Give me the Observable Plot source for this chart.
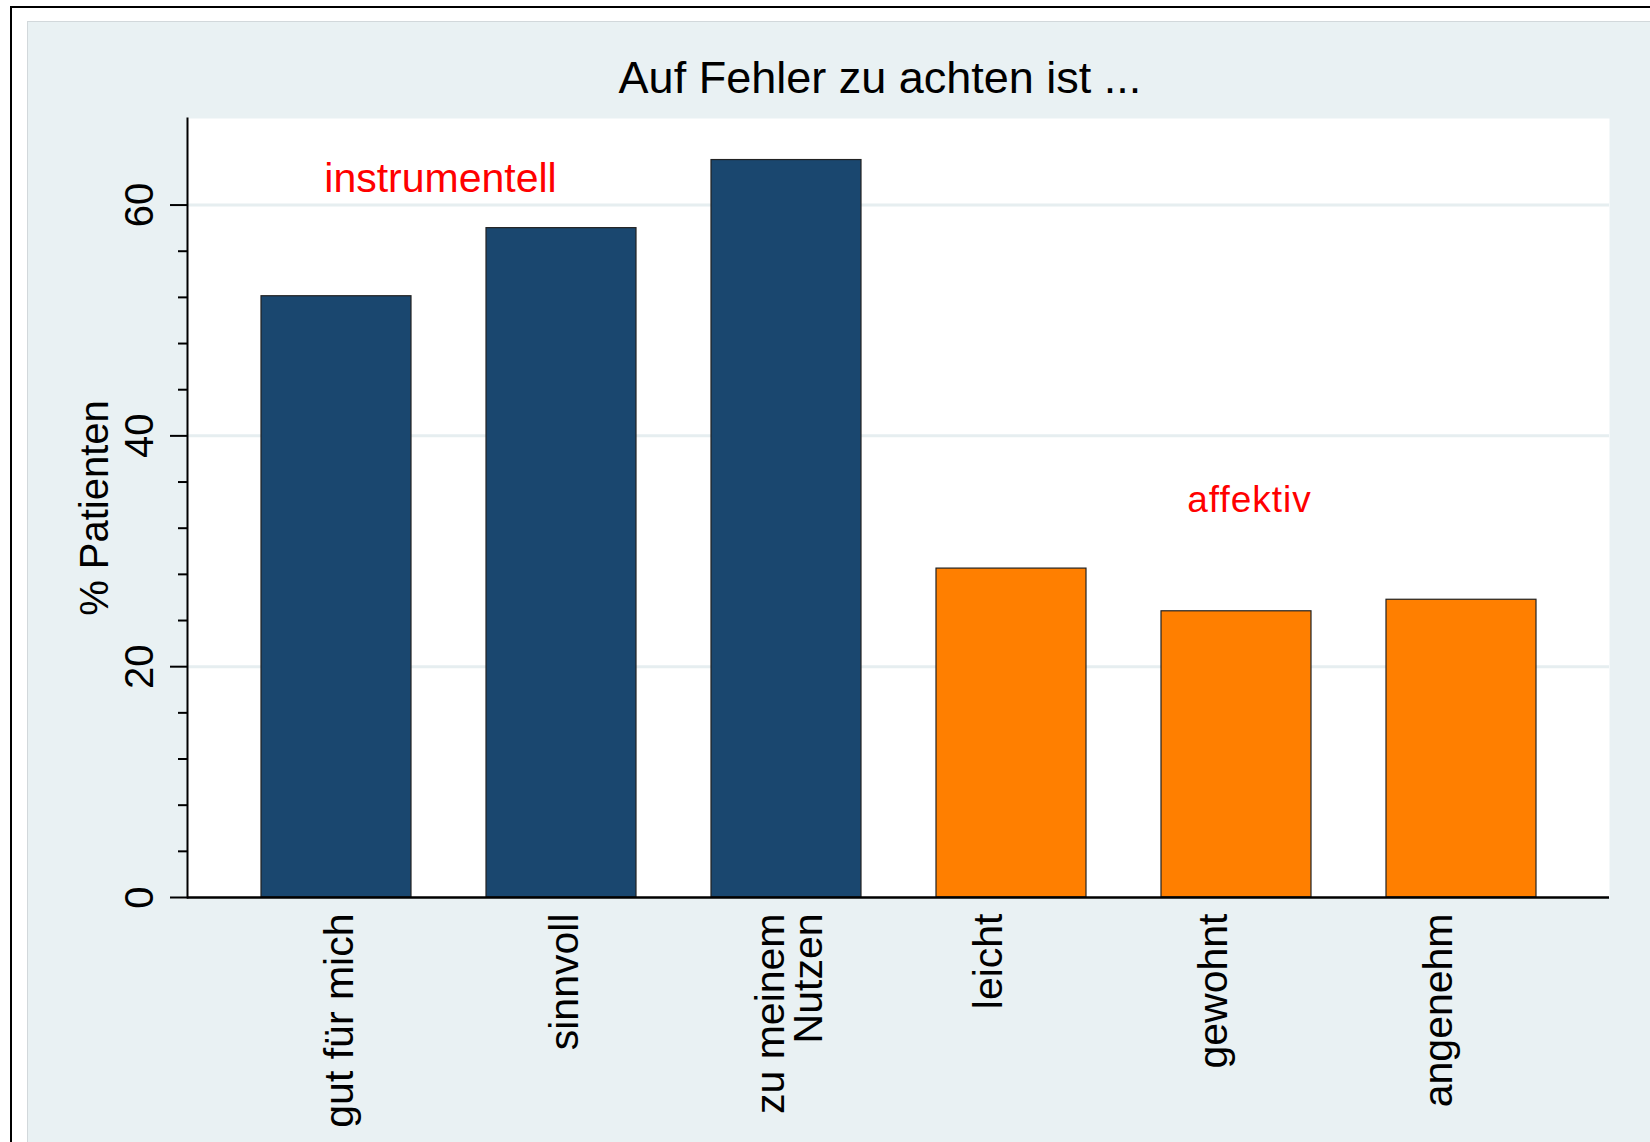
<!DOCTYPE html>
<html>
<head>
<meta charset="utf-8">
<script src="https://cdn.jsdelivr.net/npm/d3@7"></script>
<script src="https://cdn.jsdelivr.net/npm/@observablehq/plot@0.6"></script>
<style>
  html, body { margin: 0; padding: 0; background: #fff; }
  #root { position: relative; width: 1650px; height: 1142px; overflow: hidden; background: #fff;
          font-family: "Liberation Sans", Arial, Helvetica, sans-serif; }
  #outer { position: absolute; left: 10px; top: 6px; width: 1700px; height: 1200px;
           border: 2px solid #000; box-sizing: border-box; }
  #panel { position: absolute; left: 27px; top: 21px; width: 1700px; height: 1200px;
           background: #e9f1f3; border: 1px solid #d2d8db; box-sizing: border-box; }
  #chart { position: absolute; left: 0; top: 0; width: 1650px; }
  #title { height: 100px; box-sizing: border-box; padding-top: 55px; padding-left: 110px;
           text-align: center; font-size: 45px; line-height: 45px; color: #000; }
</style>
</head>
<body>
<div id="root">
  <div id="outer"></div>
  <div id="panel"></div>
  <div id="chart">
    <div id="title">Auf Fehler zu achten ist ...</div>
  </div>
</div>
<script>
// ---- data ----
const categories = ["gut für mich", "sinnvoll", "zu meinem\nNutzen", "leicht", "gewohnt", "angenehm"];
const values = [52.1, 58.0, 63.9, 28.5, 24.8, 25.8];
const groups = ["instrumentell", "instrumentell", "instrumentell", "affektiv", "affektiv", "affektiv"];
const groupNames = ["instrumentell", "affektiv"];
const groupColors = ["#1a476f", "#ff7f00"];
const yMajorTicks = [0, 20, 40, 60];
const yMinorTicks = [4, 8, 12, 16, 24, 28, 32, 36, 44, 48, 52, 56];
const gridValues = [20, 40, 60];
const yTitle = "% Patienten";
const annotations = [
  {text: "instrumentell", cat: "gut für mich", y: 61.1},
  {text: "affektiv", cat: "gewohnt", y: 33.4}
];

const data = categories.map((c, i) => ({cat: c, value: values[i], group: groups[i]}));
const instrData = data.filter(d => d.group === "instrumentell");
const affData = data.filter(d => d.group === "affektiv");

const chart = Plot.plot({
  width: 1650,
  height: 1042,
  marginTop: 18,
  marginBottom: 245,
  marginLeft: 187,
  marginRight: 41,
  style: {background: "transparent", fontFamily: "'Liberation Sans', Arial, sans-serif", fontSize: "40px", color: "#000", overflow: "visible"},
  x: {domain: categories, paddingInner: 0.335, paddingOuter: 0.32, axis: null},
  y: {domain: [0, 67.5], axis: null},
  color: {domain: groupNames, range: groupColors},
  marks: [
    Plot.frame({fill: "#ffffff", stroke: "none"}),
    Plot.ruleY(gridValues, {stroke: "#e6eef0", strokeWidth: 3}),
    Plot.barY(data, {x: "cat", y: "value", fill: "group", stroke: "#222222", strokeWidth: 1.2}),
    Plot.frame({anchor: "left", stroke: "#000", strokeWidth: 2}),
    Plot.ruleY([0], {stroke: "#000", strokeWidth: 2.5}),
    Plot.axisY({ticks: yMajorTicks, tickSize: 17, tickFormat: () => "", strokeWidth: 2, label: null}),
    Plot.axisY({ticks: yMinorTicks, tickSize: 9, tickFormat: () => "", strokeWidth: 2, label: null}),
    Plot.text(yMajorTicks, {y: d => d, text: d => String(d), frameAnchor: "left", dx: -35, rotate: -90,
      textAnchor: "middle", lineAnchor: "bottom", fontSize: 40, fill: "#000"}),
    Plot.text([yTitle], {text: d => d, frameAnchor: "left", dx: -80, rotate: -90,
      textAnchor: "middle", lineAnchor: "bottom", fontSize: 40, fill: "#000"}),
    Plot.text(instrData, {x: "cat", text: "cat", frameAnchor: "bottom", dy: 16, dx: 4, rotate: -90,
      textAnchor: "end", lineAnchor: "middle", lineHeight: 0.95, fontSize: 41, fill: "#000"}),
    Plot.text(affData, {x: "cat", text: "cat", frameAnchor: "bottom", dy: 16, dx: -22, rotate: -90,
      textAnchor: "end", lineAnchor: "middle", lineHeight: 0.95, fontSize: 41, fill: "#000"}),
    Plot.text([annotations[0]], {x: "cat", y: "y", text: "text", dx: 104, lineAnchor: "bottom",
      textAnchor: "middle", fontSize: 41, fill: "#ff0000"}),
    Plot.text([annotations[1]], {x: "cat", y: "y", text: "text", dx: 13, lineAnchor: "bottom",
      textAnchor: "middle", fontSize: 37, fill: "#ff0000"})
  ]
});

d3.select(chart).selectAll("text").filter(function() { return this.textContent === "affektiv"; })
  .attr("letter-spacing", "1px");

document.getElementById("chart").appendChild(chart);
</script>
</body>
</html>
